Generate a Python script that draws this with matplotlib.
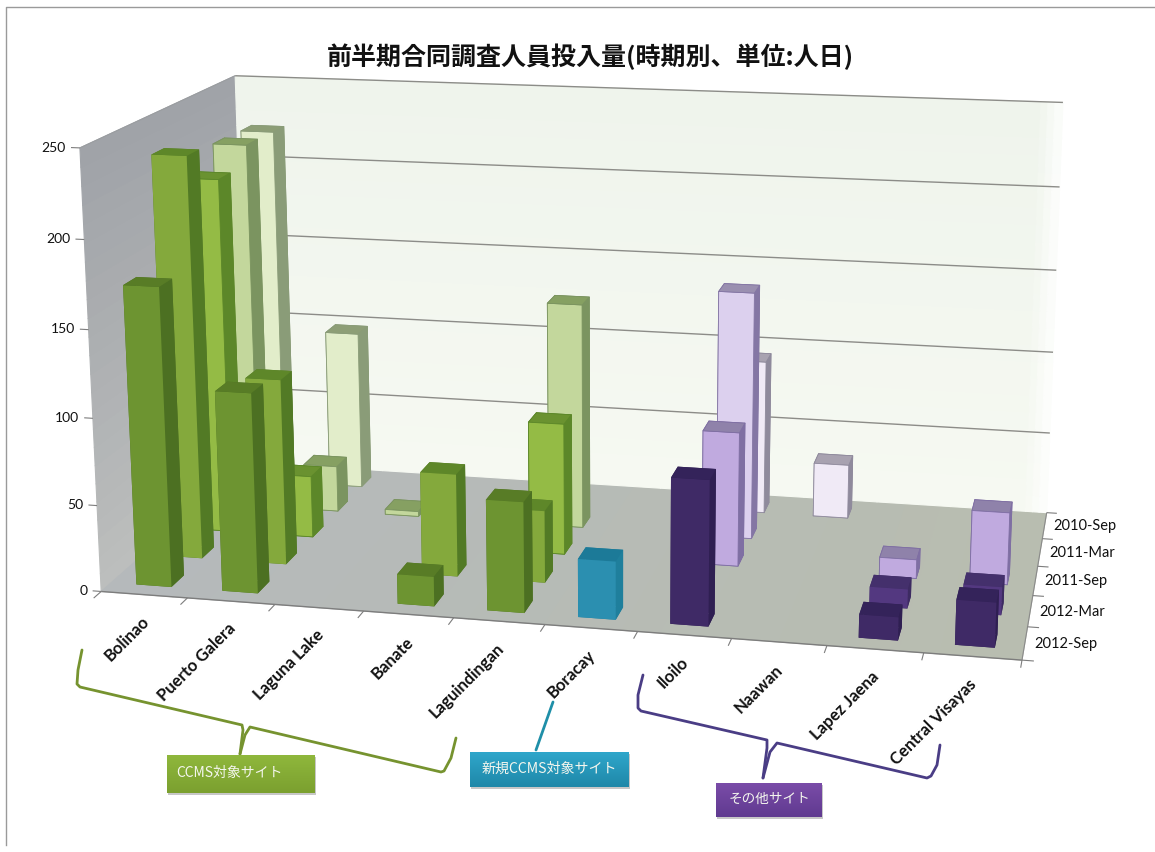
import numpy as np
import matplotlib
matplotlib.use("Agg")
import matplotlib.pyplot as plt
from matplotlib.patches import Rectangle
from matplotlib.colors import LinearSegmentedColormap, to_rgb
from mpl_toolkits.mplot3d.art3d import Poly3DCollection, Line3DCollection

TITLE = "前半期合同調査人員投入量(時期別、単位:人日)"
SITES = ["Bolinao", "Puerto Galera", "Laguna Lake", "Banate", "Laguindingan",
         "Boracay", "Iloilo", "Naawan", "Lapez Jaena", "Central Visayas"]
PERIODS = ["2012-Sep", "2012-Mar", "2011-Sep", "2011-Mar", "2010-Sep"]
VALUE_TICKS = [0, 50, 100, 150, 200, 250]

# Person-days per period, one list per period, in site order.
SEP_2012 = [172, 115, 0, 17, 63, 33, 82, 0, 13, 25]
MAR_2012 = [235, 109, 0, 60, 42, 0, 0, 0, 11, 16]
SEP_2011 = [212, 37, 0, 0, 78, 0, 79, 0, 11, 42]
MAR_2011 = [223, 28, 3, 0, 136, 0, 148, 0, 0, 0]
SEP_2010 = [222, 98, 0, 0, 0, 0, 94, 33, 0, 0]
SERIES = [SEP_2012, MAR_2012, SEP_2011, MAR_2011, SEP_2010]

# Front, side and top shades of a bar, by site family and period.
GREEN = [("#6d9431", "#4c7022", "#587c26"), ("#84a93c", "#527a25", "#5e8729"),
         ("#94bb45", "#5c8729", "#6a9230"), ("#c3d79c", "#7b9460", "#86a062"),
         ("#e2edca", "#8a9c78", "#8d9e76")]
BLUE = [("#2b8fb0", "#1f7f9c", "#1c7a98")] * 5
PURPLE = [("#3f2a66", "#2f1f52", "#34235a"), ("#533880", "#3d2b62", "#44306c"),
          ("#c0aadf", "#7f6fa3", "#8f82aa"), ("#dcd0ee", "#8476a4", "#9a8fb0"),
          ("#f0eaf6", "#8f8a9c", "#a8a2b0")]
FAMILY = [GREEN] * 5 + [BLUE] + [PURPLE] * 4

W, H = 1155, 852
BAR_W, BAR_D = 0.41, 0.40
FONT = ["Lato", "DejaVu Sans"]
CJK = ["Noto Sans CJK JP", "DejaVu Sans"]


def fit_camera(world, image):
    """Least-squares 3x4 camera taking (site, period, value) to image pixels."""
    rows, rhs = [], []
    for (x, y, z), (u, v) in zip(world, image):
        rows.append([x, y, z, 1, 0, 0, 0, 0, -u * x, -u * y, -u * z])
        rows.append([0, 0, 0, 0, x, y, z, 1, -v * x, -v * y, -v * z])
        rhs += [u, v]
    p = np.linalg.lstsq(np.array(rows, float), np.array(rhs, float), rcond=None)[0]
    return np.append(p, 1.0).reshape(3, 4)


CAMERA = fit_camera(
    [(0, 0, 0), (10, 0, 0), (5, 0, 0), (0, 5, 0), (10, 5, 0),
     (0, 0, 250), (0, 5, 250), (10, 5, 250)],
    [(102, 592), (1022, 660), (544, 625), (248, 462), (1047, 512),
     (80, 147), (235, 76), (1063, 103)],
)


def project(x, y, z):
    u, v, w = CAMERA @ np.array([x, y, z, 1.0])
    return u / w, v / w


fig = plt.figure(figsize=(W / 100, H / 100), dpi=100, facecolor="white")
ax = fig.add_axes([0, 0, 1, 1], projection="3d")
ax.apply_aspect = lambda position=None: None
ax.set_axis_off()
ax.computed_zorder = False
ax.patch.set_alpha(0)


def camera_proj():
    to_axes = ax.transData.inverted().get_matrix()
    flip = np.array([[1, 0, 0], [0, -1, H], [0, 0, 1.0]])
    h = to_axes @ flip @ CAMERA
    depth = np.array([h[2, 0], h[2, 1], h[2, 2], 0.0])
    return np.vstack([h[0], h[1], depth, h[2]])


ax.get_proj = camera_proj


def mix(c0, c1, t):
    a, b = np.array(to_rgb(c0)), np.array(to_rgb(c1))
    return tuple(a + (b - a) * t)


def add_quads(quads, colors, zorder=1):
    ax.add_collection3d(Poly3DCollection(quads, facecolors=colors, edgecolors=colors,
                                         linewidths=0.8, zorder=zorder))


def add_segments(segments, color, lw, zorder):
    ax.add_collection3d(Line3DCollection(segments, colors=color, linewidths=lw, zorder=zorder))


# Walls and floor, in strips for a soft gradient.
n = 24
zs = np.linspace(0, 250, n + 1)
add_quads([[(0, 0, zs[i]), (0, 5, zs[i]), (0, 5, zs[i + 1]), (0, 0, zs[i + 1])] for i in range(n)],
          [mix("#bcbebd", "#a0a3a8", i / (n - 1)) for i in range(n)])
xs = np.linspace(0, 10, n + 1)
add_quads([[(xs[i], 0, 0), (xs[i + 1], 0, 0), (xs[i + 1], 5, 0), (xs[i], 5, 0)] for i in range(n)],
          [mix("#b5b9bb", "#b8bdb0", i / (n - 1)) for i in range(n)])

# The back wall pales toward the floor and fades out at its right end.
bx = np.append(np.linspace(0, 9.75, 12), [9.83, 9.91, 10.0])
back_quads, back_colors = [], []
for i in range(n):
    base = mix("#f6f9f2", "#eff4ec", i / (n - 1))
    for j in range(len(bx) - 1):
        fade = max(0.0, (bx[j] - 9.7) / 0.3)
        back_quads.append([(bx[j], 5, zs[i]), (bx[j + 1], 5, zs[i]),
                           (bx[j + 1], 5, zs[i + 1]), (bx[j], 5, zs[i + 1])])
        back_colors.append(mix(base, "#ffffff", fade))
add_quads(back_quads, back_colors)

# Gridlines on the back wall, wall edges, ticks.
add_segments([[(0, 5, v), (10, 5, v)] for v in VALUE_TICKS[1:]], "#8c8c88", 1.0, 3)
add_segments([[(0, 0, 250), (0, 5, 250)]], "#9a9da0", 0.8, 3)
add_segments([[(0, 0, 0), (10, 0, 0)]], "#7d7d7d", 1.0, 4)
add_segments([[(10, 0, 0), (10, 5, 0)]], "#8a8a8a", 0.8, 4)
add_segments([[(i, 0, 0), (i, -0.22, 0)] for i in range(11)], "#7d7d7d", 0.8, 4)
add_segments([[(10, r, 0), (10.12, r, 0)] for r in range(6)], "#7d7d7d", 0.8, 4)
add_segments([[(-0.1, 0, v), (0, 0, v)] for v in VALUE_TICKS], "#7d7d7d", 0.8, 4)

# Bars, painted from the back row forward.
for r in range(4, -1, -1):
    for i, value in enumerate(SERIES[r]):
        if value <= 0:
            continue
        front, side, top = FAMILY[i][r]
        edge = side if r >= 2 else "none"
        ax.bar3d(i + 0.5 - BAR_W / 2, r + 0.5 - BAR_D / 2, 0, BAR_W, BAR_D, value,
                 color=[side, top, front, side, side, side], shade=False,
                 edgecolor=edge, linewidth=0.6, zorder=10 + (4 - r) * 5)

# Page-level overlay in pixel coordinates: labels, title, frame, braces and callouts.
ov = fig.add_axes([0, 0, 1, 1], zorder=5)
ov.set_xlim(0, W)
ov.set_ylim(H, 0)
ov.set_axis_off()
ov.patch.set_alpha(0)

for v in VALUE_TICKS:
    u, y = project(-0.1, 0, v)
    ov.text(u - 5, y, str(v), ha="right", va="center", fontsize=10,
            family=FONT, color="#111111")
for i, name in enumerate(SITES):
    u, y = project(i + 0.5, 0, -11)
    ov.text(u - 4, y, name, ha="right", va="top", rotation=45, rotation_mode="anchor",
            fontsize=12, fontweight="bold", family=FONT, color="#111111")
for r, name in enumerate(PERIODS):
    u, y = project(10.1, r + 0.5, 0)
    ov.text(u, y, name, ha="left", va="center", fontsize=10.5,
            family=FONT, color="#111111")

ov.plot([6, 6, W], [845, 7, 7], color="#9a9a9a", lw=1.0)
ov.text(590, 57, TITLE, ha="center", va="center", fontsize=18, fontweight="bold",
        family=CJK, color="#111111")


def line(points, color):
    ov.plot(*zip(*points), color=color, lw=2.0, solid_capstyle="round", solid_joinstyle="round")


GREEN_LINE, BLUE_LINE, PURPLE_LINE = "#76932f", "#1f8fa8", "#4a3d85"
line([(82, 650), (78, 670), (77, 684), (80, 687), (242, 725), (243, 730), (240, 754)], GREEN_LINE)
line([(240, 754), (245, 735), (250, 727), (441, 772), (444, 771), (451, 758), (456, 738)], GREEN_LINE)
line([(553, 702), (536, 750)], BLUE_LINE)
line([(643, 675), (638, 695), (638, 708), (641, 711), (767, 740), (767, 748), (763, 778)], PURPLE_LINE)
line([(763, 778), (770, 752), (777, 743), (927, 778), (931, 776), (937, 765), (940, 745)], PURPLE_LINE)


def callout(x0, y0, x1, y1, top, bottom, text, size, text_x=None):
    ov.add_patch(Rectangle((x0 + 1, y0 + 2), x1 - x0, y1 - y0, fc="#000000", alpha=0.22, ec="none"))
    cmap = LinearSegmentedColormap.from_list("box", [top, bottom])
    ov.imshow(np.linspace(0, 1, 40).reshape(-1, 1), cmap=cmap, extent=(x0, x1, y1, y0),
              aspect="auto", zorder=3)
    ov.text((x0 + x1) / 2 if text_x is None else text_x, (y0 + y1) / 2 - 1, text,
            ha="center", va="center", fontsize=size, family=CJK, color="#f4f6ee", zorder=4)


callout(167, 755, 315, 793, "#8fb73c", "#7ba02f", "CCMS対象サイト", 10, text_x=229)
callout(470, 752, 629, 787, "#2fa6cb", "#1f88a8", "新規CCMS対象サイト", 10.1)
callout(716, 783, 822, 817, "#7a4ca8", "#603a90", "その他サイト", 9.8)
ov.set_xlim(0, W)
ov.set_ylim(H, 0)

fig.savefig("out.png", dpi=100, facecolor="white")
